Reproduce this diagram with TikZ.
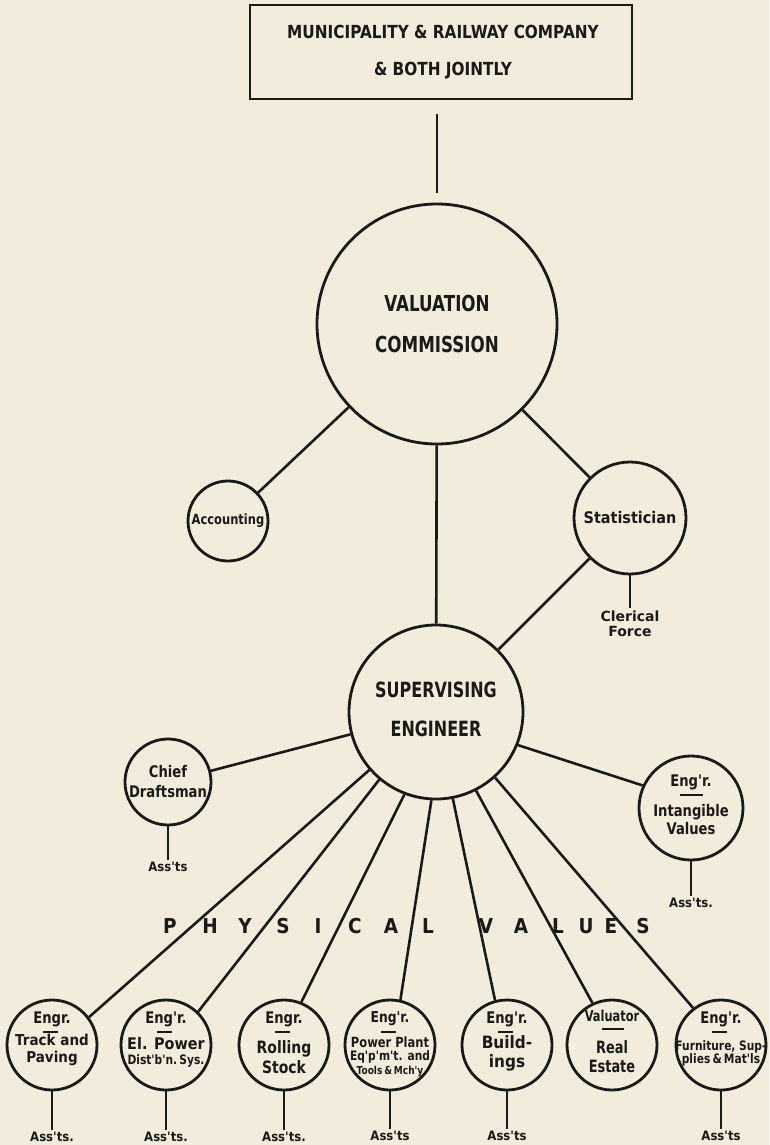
\documentclass[tikz,border=0pt]{standalone}
\usepackage{fontspec}
\newfontfamily\hD{DejaVu Sans}
\newfontfamily\hA[FakeStretch=0.9]{DejaVu Sans}
\newfontfamily\hE[FakeStretch=0.85]{DejaVu Sans}
\newfontfamily\hB[FakeStretch=0.82]{DejaVu Sans}
\newfontfamily\hC[FakeStretch=0.76]{DejaVu Sans}
\definecolor{paper}{RGB}{241,236,220}
\definecolor{ink}{RGB}{28,26,24}
\tikzset{
  ln/.style={draw=ink, line width=2.6pt},
  ul/.style={draw=ink, line width=1.8pt},
  circ/.style={circle, draw=ink, line width=2.8pt, inner sep=0pt, align=center, text=ink},
  txt/.style={text=ink, inner sep=0.5pt, align=center},
  asst/.style={text=ink, inner sep=2pt, align=center, font=\hA\bfseries\fontsize{13}{15}\selectfont},
  btxt/.style={text=ink, inner sep=0pt, align=center},
  pv/.style={text=ink, inner sep=0pt, font=\hA\bfseries\fontsize{20.5}{24}\selectfont},
}
\begin{document}
\begin{tikzpicture}[x=1pt,y=-1pt]
\fill[paper] (0,0) rectangle (769,1145);
\useasboundingbox (0,0) rectangle (769,1145);

% top box
\node[draw=ink, line width=2.8pt, minimum width=382pt, minimum height=94pt, inner sep=0pt, text=ink] (top) at (441,52) {};
\node[txt, font=\hE\bfseries\fontsize{18}{37}\selectfont] (topt) at (443,52)
      {MUNICIPALITY \& RAILWAY COMPANY\\\& BOTH JOINTLY};
\coordinate (t1) at (437,114);
\coordinate (t2) at (437,193);
\draw[ln] (t1) -- (t2);

% valuation commission
\node[circ, minimum size=240pt, font=\hC\bfseries\fontsize{22}{41}\selectfont] (val) at (437,324) {VALUATION\\COMMISSION};
\node[circ, minimum size=80pt, font=\hB\bfseries\fontsize{14}{17}\selectfont] (acc) at (228,521) {Accounting};
\node[circ, minimum size=112pt, font=\hA\bfseries\fontsize{16}{18}\selectfont] (stat) at (630,518) {Statistician};
\node[txt, inner sep=3pt, font=\hD\bfseries\fontsize{14}{15}\selectfont] (clerk) at (630,624) {Clerical\\Force};

% supervising engineer
\node[circ, minimum size=174pt] (se) at (436,712) {};
\node[txt, font=\hC\bfseries\fontsize{21}{39}\selectfont] (set) at (436,709) {SUPERVISING\\ENGINEER};

\draw[ln] (val) -- (acc);
\draw[ln] (val) -- (stat);
\draw[ln] (val) -- (se);
\draw[ln] (se) -- (stat);
\draw[ln] (stat) -- (clerk);

% chief draftsman
\node[circ, minimum size=86pt, font=\hB\bfseries\fontsize{16}{20}\selectfont] (chief) at (168,782) {Chief\\Draftsman};
\node[asst] (chiefa) at (168,867) {Ass'ts};
\draw[ln] (se) -- (chief);
\draw[ln] (chief) -- (chiefa);

% intangible values
\node[circ, minimum size=104pt] (int) at (691,808) {};
\node[btxt, font=\hB\bfseries\fontsize{16}{18}\selectfont] (intt1) at (691,782) {Eng'r.};
\draw[ul] ([xshift=-11pt,yshift=13pt]int.center) -- ([xshift=12pt,yshift=13pt]int.center);
\node[btxt, font=\hB\bfseries\fontsize{16}{18}\selectfont] (intt2) at (691,820) {Intangible\\Values};
\node[asst] (inta) at (691,903) {Ass'ts.};
\draw[ln] (se.-22) -- (int.155);
\draw[ln] (int) -- (inta);

% physical values lettering
\foreach \x/\l [count=\i] in {170/P,210/H,245/Y,283/S,318/I,355/C,391/A,428/L,486/V,521/A,558/L,586/U,611/E,643/S}
  \node[pv] (pv\i) at (\x,926) {\l};

% bottom circles
\foreach \n/\x in {b1/52,b2/166,b3/284,b4/390,b5/507,b6/612,b7/721}
  \node[circ, minimum size=90pt] (\n) at (\x,1045) {};

\draw[ln] (se.221) -- (b1.37);
\draw[ln] (se.230) -- (b2.46);
\draw[ln] (se.249) -- (b3.68);
\draw[ln] (se.267) -- (b4.77);
\draw[ln] (se.281.5) -- (b5.105);
\draw[ln] (se.297) -- (b6.115);
\draw[ln] (se.312) -- (b7.127);

% underlines under first lines
\foreach \n in {b1,b2,b3,b4,b5,b7}
  \draw[ul] ([xshift=-9pt,yshift=13pt]\n.center) -- ([xshift=6pt,yshift=13pt]\n.center);
\draw[ul] ([xshift=-10pt,yshift=16pt]b6.center) -- ([xshift=12pt,yshift=16pt]b6.center);

% b1
\node[btxt, font=\hB\bfseries\fontsize{16}{18}\selectfont] (b1t1) at (52,1019) {Engr.};
\node[btxt, font=\hA\bfseries\fontsize{15}{17}\selectfont] (b1t2) at (52,1050) {Track and\\Paving};
% b2
\node[btxt, font=\hB\bfseries\fontsize{16}{18}\selectfont] (b2t1) at (166,1019) {Eng'r.};
\node[btxt, font=\hA\bfseries\fontsize{16}{18}\selectfont] (b2t2) at (166,1044) {El. Power};
\node[btxt, font=\hB\bfseries\fontsize{13}{15}\selectfont] (b2t3) at (166,1061) {Dist'b'n.\,Sys.};
% b3
\node[btxt, font=\hB\bfseries\fontsize{16}{18}\selectfont] (b3t1) at (284,1019) {Engr.};
\node[btxt, font=\hB\bfseries\fontsize{17}{20}\selectfont] (b3t2) at (284,1057) {Rolling\\Stock};
% b4
\node[btxt, font=\hB\bfseries\fontsize{15}{18}\selectfont] (b4t1) at (390,1019) {Eng'r.};
\node[btxt, font=\hB\bfseries\fontsize{14}{16}\selectfont] (b4t2) at (390,1042) {Power Plant};
\node[btxt, font=\hB\bfseries\fontsize{13}{15}\selectfont] (b4t3) at (390,1057) {Eq'p'm't. and};
\node[btxt, font=\hB\bfseries\fontsize{11}{13}\selectfont] (b4t4) at (390,1071) {Tools\,\&\,Mch'y};
% b5
\node[btxt, font=\hB\bfseries\fontsize{16}{18}\selectfont] (b5t1) at (507,1019) {Eng'r.};
\node[btxt, font=\hA\bfseries\fontsize{17}{19}\selectfont] (b5t2) at (507,1053) {Build-\\ings};
% b6
\node[btxt, font=\hC\bfseries\fontsize{15}{18}\selectfont] (b6t1) at (612,1016) {Valuator};
\node[btxt, font=\hC\bfseries\fontsize{17}{19}\selectfont] (b6t2) at (612,1057) {Real\\Estate};
% b7
\node[btxt, font=\hB\bfseries\fontsize{16}{18}\selectfont] (b7t1) at (721,1019) {Eng'r.};
\node[btxt, font=\hB\bfseries\fontsize{13}{13}\selectfont] (b7t2) at (721,1053) {Furniture, Sup-\\plies\,\&\,Mat'ls};

% assistants
\node[asst] (a1) at (52,1137) {Ass'ts.};
\node[asst] (a2) at (166,1137) {Ass'ts.};
\node[asst] (a3) at (284,1137) {Ass'ts.};
\node[asst] (a4) at (390,1136) {Ass'ts};
\node[asst] (a5) at (507,1136) {Ass'ts};
\node[asst] (a7) at (721,1136) {Ass'ts};
\draw[ln] (b1) -- (a1);
\draw[ln] (b2) -- (a2);
\draw[ln] (b3) -- (a3);
\draw[ln] (b4) -- (a4);
\draw[ln] (b5) -- (a5);
\draw[ln] (b7) -- (a7);
\end{tikzpicture}
\end{document}
